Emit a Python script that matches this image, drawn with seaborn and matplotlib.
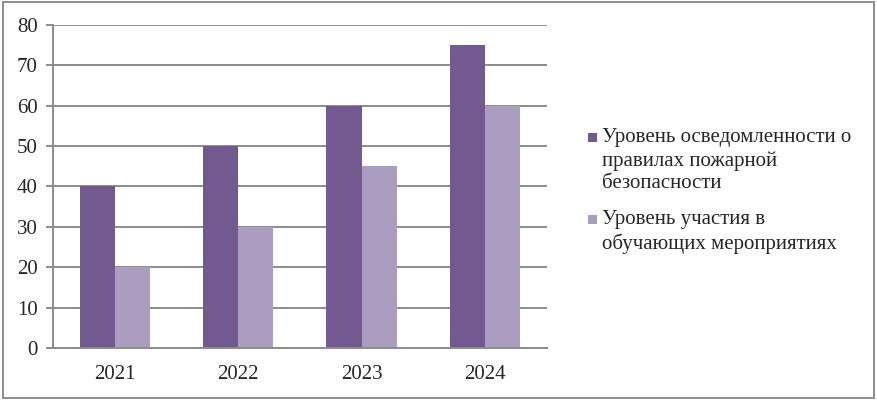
import pandas as pd
import matplotlib
matplotlib.use("Agg")
import matplotlib.pyplot as plt
import seaborn as sns
from matplotlib.patches import Rectangle

years = ["2021", "2022", "2023", "2024"]
awareness = [40, 50, 60, 75]
participation = [20, 30, 45, 60]
series = ["Уровень осведомленности о\nправилах пожарной\nбезопасности",
          "Уровень участия в\nобучающих мероприятиях"]
colors = ["#72598F", "#AA9DC0"]

df = pd.DataFrame({
    "year": years * 2,
    "value": awareness + participation,
    "series": [series[0]] * 4 + [series[1]] * 4,
})

sns.set_style("white")
plt.rcParams['font.family'] = ['Liberation Serif', 'DejaVu Serif']
fs = 15

fig = plt.figure(figsize=(8.77, 4.0), dpi=100)
ax = fig.add_axes([0.0604, 0.13, 0.563, 0.8075])

sns.barplot(data=df, x="year", y="value", hue="series", palette=colors,
            width=0.57, saturation=1, linewidth=0, ax=ax, legend=False)

ax.set_ylim(0, 80)
ax.set_xlim(-0.5, 3.5)
ax.set_yticks(range(0, 81, 10))
ax.yaxis.grid(True, color="#8c8c8c", linewidth=1.4)
ax.set_axisbelow(True)
ax.set_xlabel("")
ax.set_ylabel("")
for s in ["top", "right"]:
    ax.spines[s].set_visible(False)
for s in ["left", "bottom"]:
    ax.spines[s].set_color("#8c8c8c")
    ax.spines[s].set_linewidth(1.4)

ax.set_xticks([-0.5, 0.5, 1.5, 2.5, 3.5], minor=True)
ax.tick_params(axis="x", which="major", length=0, labelsize=fs, pad=12)
ax.tick_params(axis="x", which="minor", length=5, width=1.4, color="#8c8c8c", direction="out")
ax.tick_params(axis="y", length=5, width=1.4, color="#8c8c8c", direction="out",
               labelsize=fs, pad=6, left=True)

# legend drawn by hand so the square sits on the first line
leg_y = [128, 210]
for lab, col, y in zip(series, colors, leg_y):
    fig.text(602 / 877, 1 - y / 400, lab, fontsize=fs, va="top", ha="left",
             linespacing=1.28)
    fig.patches.append(Rectangle((588 / 877, 1 - (y + 13.5) / 400), 9 / 877, 9 / 400,
                                 transform=fig.transFigure, facecolor=col,
                                 edgecolor="none"))

fig.patches.append(Rectangle((0.003, 0.005), 0.994, 0.99, transform=fig.transFigure,
                             fill=False, edgecolor="#8c8c8c", linewidth=1.4))

fig.savefig("out.png", dpi=100)
